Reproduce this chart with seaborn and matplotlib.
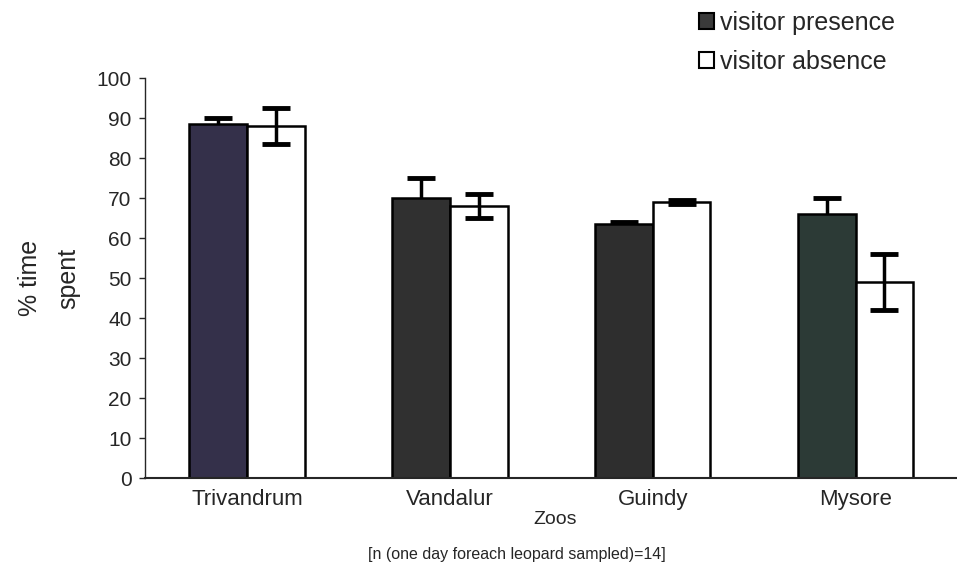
import pandas as pd
import numpy as np
import matplotlib
matplotlib.use("Agg")
import matplotlib.pyplot as plt
import seaborn as sns

# Values
zoos = ["Trivandrum", "Vandalur", "Guindy", "Mysore"]
presence = [88.5, 70.0, 63.5, 66.0]
presence_err = [1.5, 5.0, 0.5, 4.0]
absence = [88.0, 68.0, 69.0, 49.0]
absence_err = [4.5, 3.0, 0.5, 7.0]
conditions = ["visitor presence", "visitor absence"]

df = pd.DataFrame({
    "zoo": zoos * 2,
    "condition": [conditions[0]] * 4 + [conditions[1]] * 4,
    "pct": presence + absence,
})

sns.set_style("white")
plt.rcParams["font.family"] = ["Liberation Sans", "DejaVu Sans"]

fig = plt.figure(figsize=(9.57, 5.79), dpi=100)
ax = fig.add_axes([0.152, 0.174, 0.848, 0.691])

sns.barplot(data=df, x="zoo", y="pct", hue="condition",
            palette=["#333338", "white"], edgecolor="black", linewidth=1.8,
            width=0.57, errorbar=None, ax=ax, zorder=2)

# scan tints on the dark bars
dark_tints = ["#34304a", "#303030", "#2e2e2e", "#2c3a36"]
for patch, c in zip(ax.containers[0], dark_tints):
    patch.set_facecolor(c)

# error bars: dark bars behind (only upper half shows), white bars in front
for cont, err, z in [(ax.containers[0], presence_err, 1), (ax.containers[1], absence_err, 3)]:
    xs = [p.get_x() + p.get_width() / 2 for p in cont]
    ys = [p.get_height() for p in cont]
    ax.errorbar(xs, ys, yerr=err, fmt="none", ecolor="black",
                elinewidth=2.5, capsize=10, capthick=3.5, zorder=z)

ax.set_ylim(0, 100)
ax.set_xlim(-0.5, 3.5)
ax.set_yticks(range(0, 101, 10))
ax.tick_params(axis="y", length=4, width=1, direction="out", left=True, labelsize=15, pad=6)
ax.tick_params(axis="x", length=0, labelsize=16, pad=8)
sns.despine(ax=ax)
ax.spines["left"].set_linewidth(1)
ax.spines["bottom"].set_linewidth(1.5)

ax.set_xlabel("")
ax.set_ylabel("% time\nspent", fontsize=18, labelpad=12, linespacing=1.75)
fig.text(0.58, 0.102, "Zoos", ha="center", va="center", fontsize=14)
fig.text(0.54, 0.042, "[n (one day foreach leopard sampled)=14]",
         ha="center", va="center", fontsize=11.5)

ax.get_legend().remove()
handles = [plt.Rectangle((0, 0), 1, 1, facecolor=c, edgecolor="black", linewidth=1.5)
           for c in ["#3a3a3a", "white"]]
fig.legend(handles, conditions, loc="upper left", bbox_to_anchor=(0.712, 1.012),
           frameon=False, fontsize=18, handlelength=0.6, handleheight=0.6,
           handletextpad=0.25, labelspacing=0.6, borderpad=0.2)

fig.savefig("out.png", dpi=100)
